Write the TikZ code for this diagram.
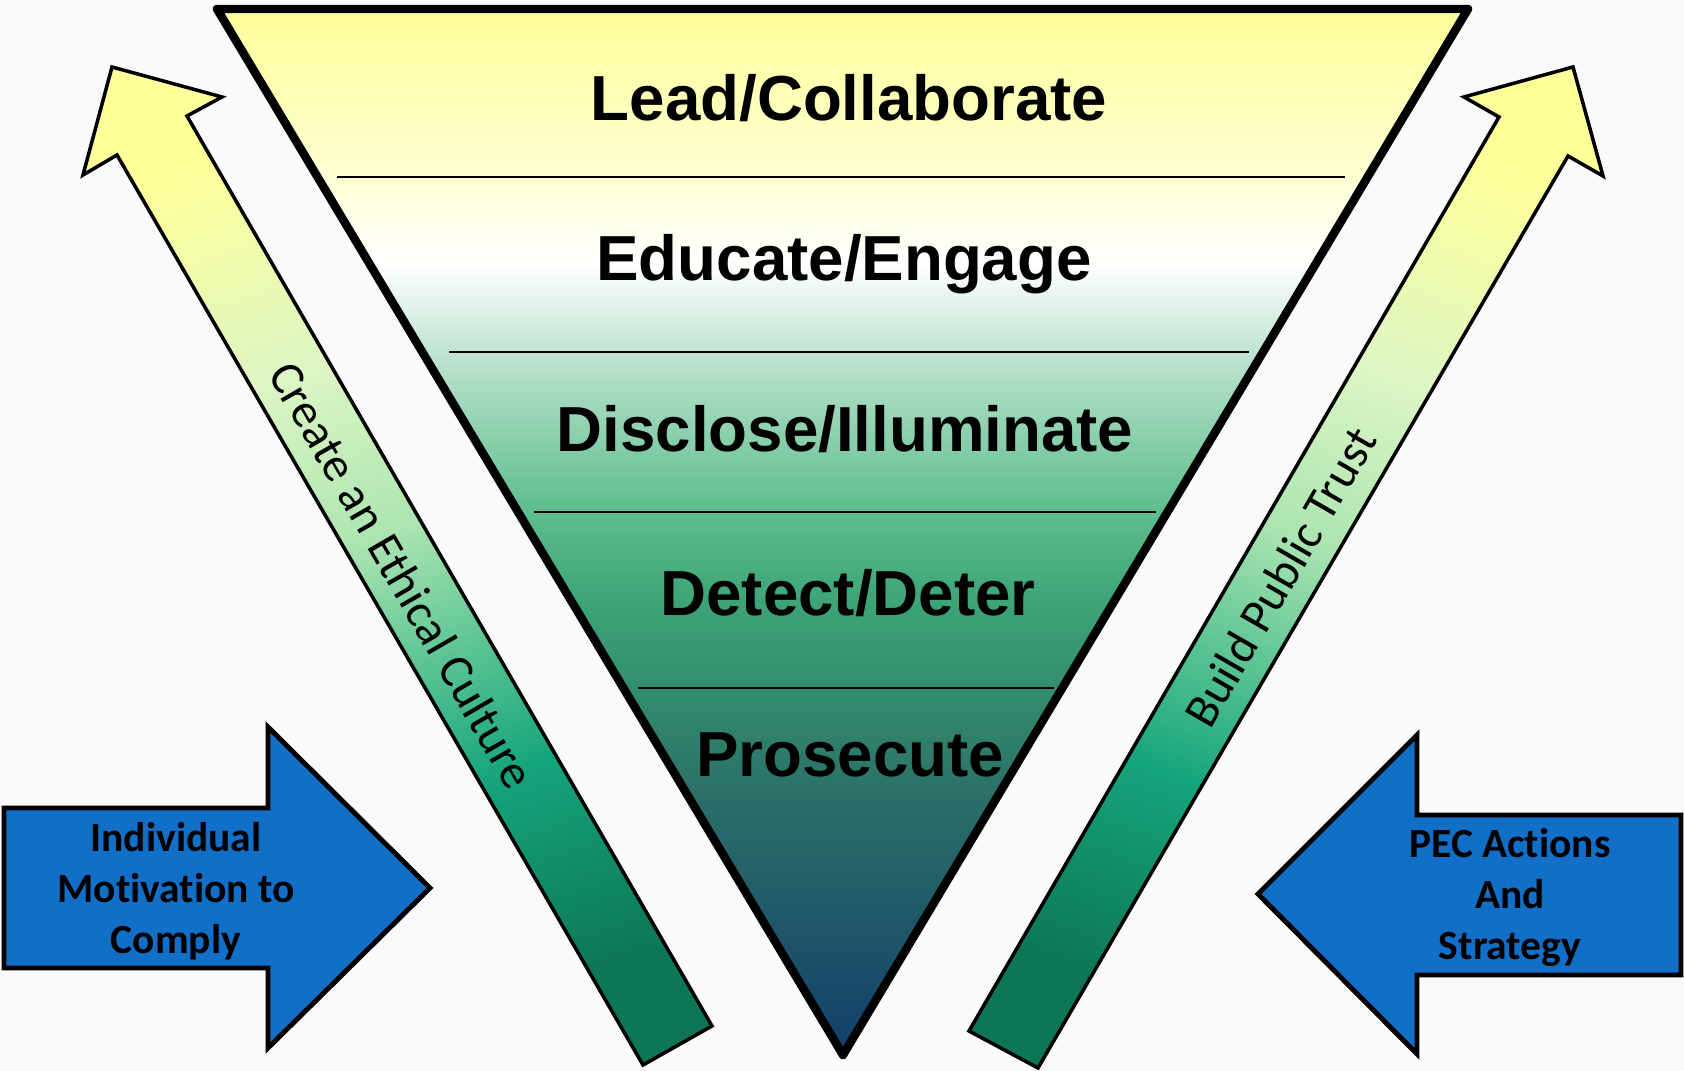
\documentclass[tikz,border=0pt]{standalone}
\usepackage{fontspec}
\setmainfont{Liberation Sans}
\newfontfamily\calibri[Ligatures=CommonOff, Contextuals=AlternateOff]{Carlito}

\definecolor{bgpaper}{HTML}{FAFAFA}
\definecolor{pecblue}{HTML}{116FC7}
\definecolor{pyrA}{HTML}{FFFF99}
\definecolor{pyrB}{HTML}{FFFFD4}
\definecolor{pyrC}{HTML}{FFFFFF}
\definecolor{pyrD}{HTML}{C0E4D2}
\definecolor{pyrE}{HTML}{8FD1AF}
\definecolor{pyrF}{HTML}{5EBE90}
\definecolor{pyrG}{HTML}{3DA577}
\definecolor{pyrH}{HTML}{338D6E}
\definecolor{pyrI}{HTML}{2B6E68}
\definecolor{pyrJ}{HTML}{123F6B}
\definecolor{shaftA}{HTML}{FFFF99}
\definecolor{shaftB}{HTML}{DDF6C4}
\definecolor{shaftC}{HTML}{ACE5B2}
\definecolor{shaftD}{HTML}{62C796}
\definecolor{shaftE}{HTML}{15A47C}
\definecolor{shaftF}{HTML}{0D7656}

\pgfdeclareverticalshading{pyramid}{100bp}{color(0bp)=(pyrJ); color(25bp)=(pyrJ);
  color(37.2bp)=(pyrI); color(42.5bp)=(pyrH); color(46.8bp)=(pyrG); color(51bp)=(pyrF);
  color(54.9bp)=(pyrE); color(58.6bp)=(pyrD); color(62.8bp)=(pyrC); color(67bp)=(pyrB);
  color(75bp)=(pyrA); color(100bp)=(pyrA)}
\pgfdeclareverticalshading{shaftfill}{100bp}{color(0bp)=(shaftF); color(25bp)=(shaftF);
  color(37bp)=(shaftE); color(45bp)=(shaftD); color(52bp)=(shaftC); color(62bp)=(shaftB);
  color(75bp)=(shaftA); color(100bp)=(shaftA)}

\begin{document}
\begin{tikzpicture}[x=0.01cm, y=-0.01cm,
    tier/.style={font=\bfseries\fontsize{18.1}{21}\selectfont, anchor=base},
    shaftlabel/.style={font=\calibri\fontsize{13.7}{16}\selectfont},
    bluelabel/.style={font=\calibri\bfseries\fontsize{11.8}{14.5}\selectfont, align=center},
    shaft/.style={draw=black, line width=1pt, line join=miter, shading=shaftfill},
    bluearrow/.style={draw=black, line width=1.4pt, line join=miter, fill=pecblue},
    divider/.style={line width=.6pt}]
\useasboundingbox (0,0) rectangle (1684,1071);
\fill[bgpaper] (0,0) rectangle (1684,1071);

% funnel
\draw[shading=pyramid, line width=2.4pt, line join=round] (217,9) -- (1468,9) -- (843,1055) -- cycle;
\draw[divider] (337,177) -- (1345,177);
\draw[divider] (449,352) -- (1249,352);
\draw[divider] (534,512) -- (1156,512);
\draw[divider] (638,688) -- (1054,688);

\node (lead) at (849,121)[tier]{Lead/Collaborate};
\node (educate) at (844,281)[tier]{Educate/Engage};
\node (disclose) at (845,452)[tier]{Disclose/Illuminate};
\node (detect) at (848,616)[tier]{Detect/Deter};
\node (prosecute) at (850,777)[tier]{Prosecute};

% rising arrows
\draw[shaft, shading angle=20] (112,67) -- (222,97) -- (187,116) -- (712,1026) -- (643,1065) -- (117,155) -- (83,175) -- cycle;
\draw[shaft, shading angle=-20] (1573,67) -- (1603,176) -- (1568,156) -- (1038,1068) -- (969,1031) -- (1499,117) -- (1464,97) -- cycle;
\node (culture) at (402,575)[shaftlabel, rotate=-60]{Create an Ethical Culture};
\node (trust) at (1280,577)[shaftlabel, rotate=60]{Build Public Trust};

% side arrows
\draw[bluearrow] (4,808) -- (268,808) -- (268,727) -- (430,888) -- (268,1048) -- (268,968) -- (4,968) -- cycle;
\draw[bluearrow] (1681,815) -- (1417,815) -- (1417,735) -- (1258,894) -- (1417,1054) -- (1417,975) -- (1681,975) -- cycle;
\node (motivation) at (176,891)[bluelabel]{Individual\\Motivation to\\Comply};
\node (pecactions) at (1510,897)[bluelabel]{PEC Actions\\And\\Strategy};

\end{tikzpicture}
\end{document}
